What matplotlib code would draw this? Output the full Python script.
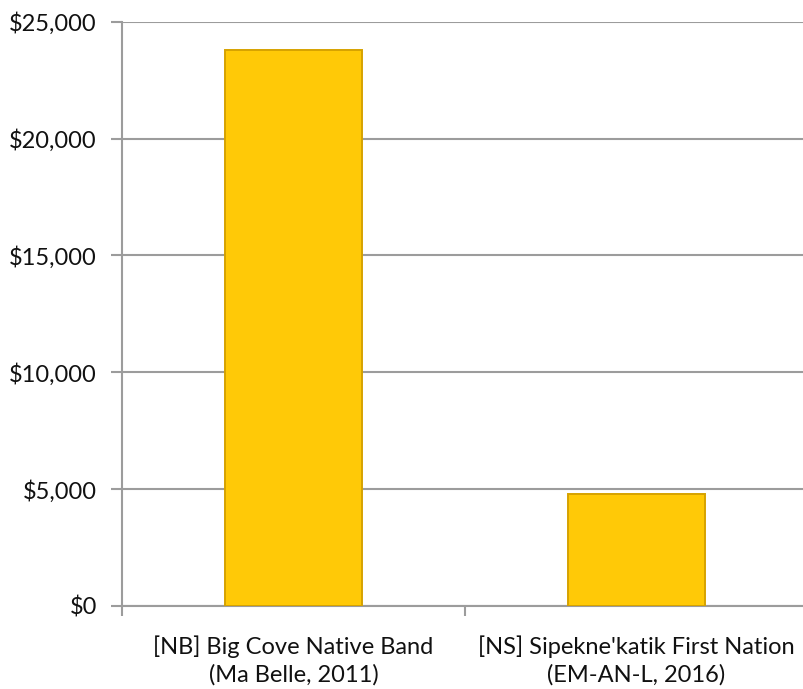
import matplotlib.pyplot as plt
from matplotlib.ticker import FuncFormatter, FixedLocator

# data
categories = ["[NB] Big Cove Native Band\n(Ma Belle, 2011)",
              "[NS] Sipekne'katik First Nation\n(EM-AN-L, 2016)"]
values = [23800, 4800]
y_ticks = [0, 5000, 10000, 15000, 20000, 25000]

plt.rcParams['font.family'] = ['Lato', 'DejaVu Sans']

fig = plt.figure(figsize=(8.04, 6.89), dpi=100)
ax = fig.add_axes([0.1517, 0.1205, 0.853, 0.848])

x = list(range(len(categories)))
ax.bar(x, values, width=0.4, color='#FFC907', edgecolor='#D6A200',
       linewidth=1.4, zorder=3)

ax.set_xlim(-0.5, 1.5)
ax.set_ylim(0, 25000)
ax.set_yticks(y_ticks)
ax.yaxis.set_major_formatter(FuncFormatter(lambda v, p: f"${v:,.0f}"))
ax.grid(axis='y', color='#9C9C9C', linewidth=1.5, zorder=0)

ax.set_xticks(x)
ax.set_xticklabels(categories, fontsize=17, linespacing=1.35, color='#111111')
ax.xaxis.set_minor_locator(FixedLocator([-0.5, 0.5, 1.5]))
ax.tick_params(axis='x', which='major', length=0, pad=21)
ax.tick_params(axis='x', which='minor', length=7, width=1.5, color='#9C9C9C')
ax.tick_params(axis='y', length=8, width=1.5, color='#9C9C9C',
               labelsize=17, labelcolor='#111111', pad=10)

for s in ['top', 'right']:
    ax.spines[s].set_visible(False)
for s in ['left', 'bottom']:
    ax.spines[s].set_color('#9C9C9C')
    ax.spines[s].set_linewidth(1.5)

fig.savefig('out.png', dpi=100)
